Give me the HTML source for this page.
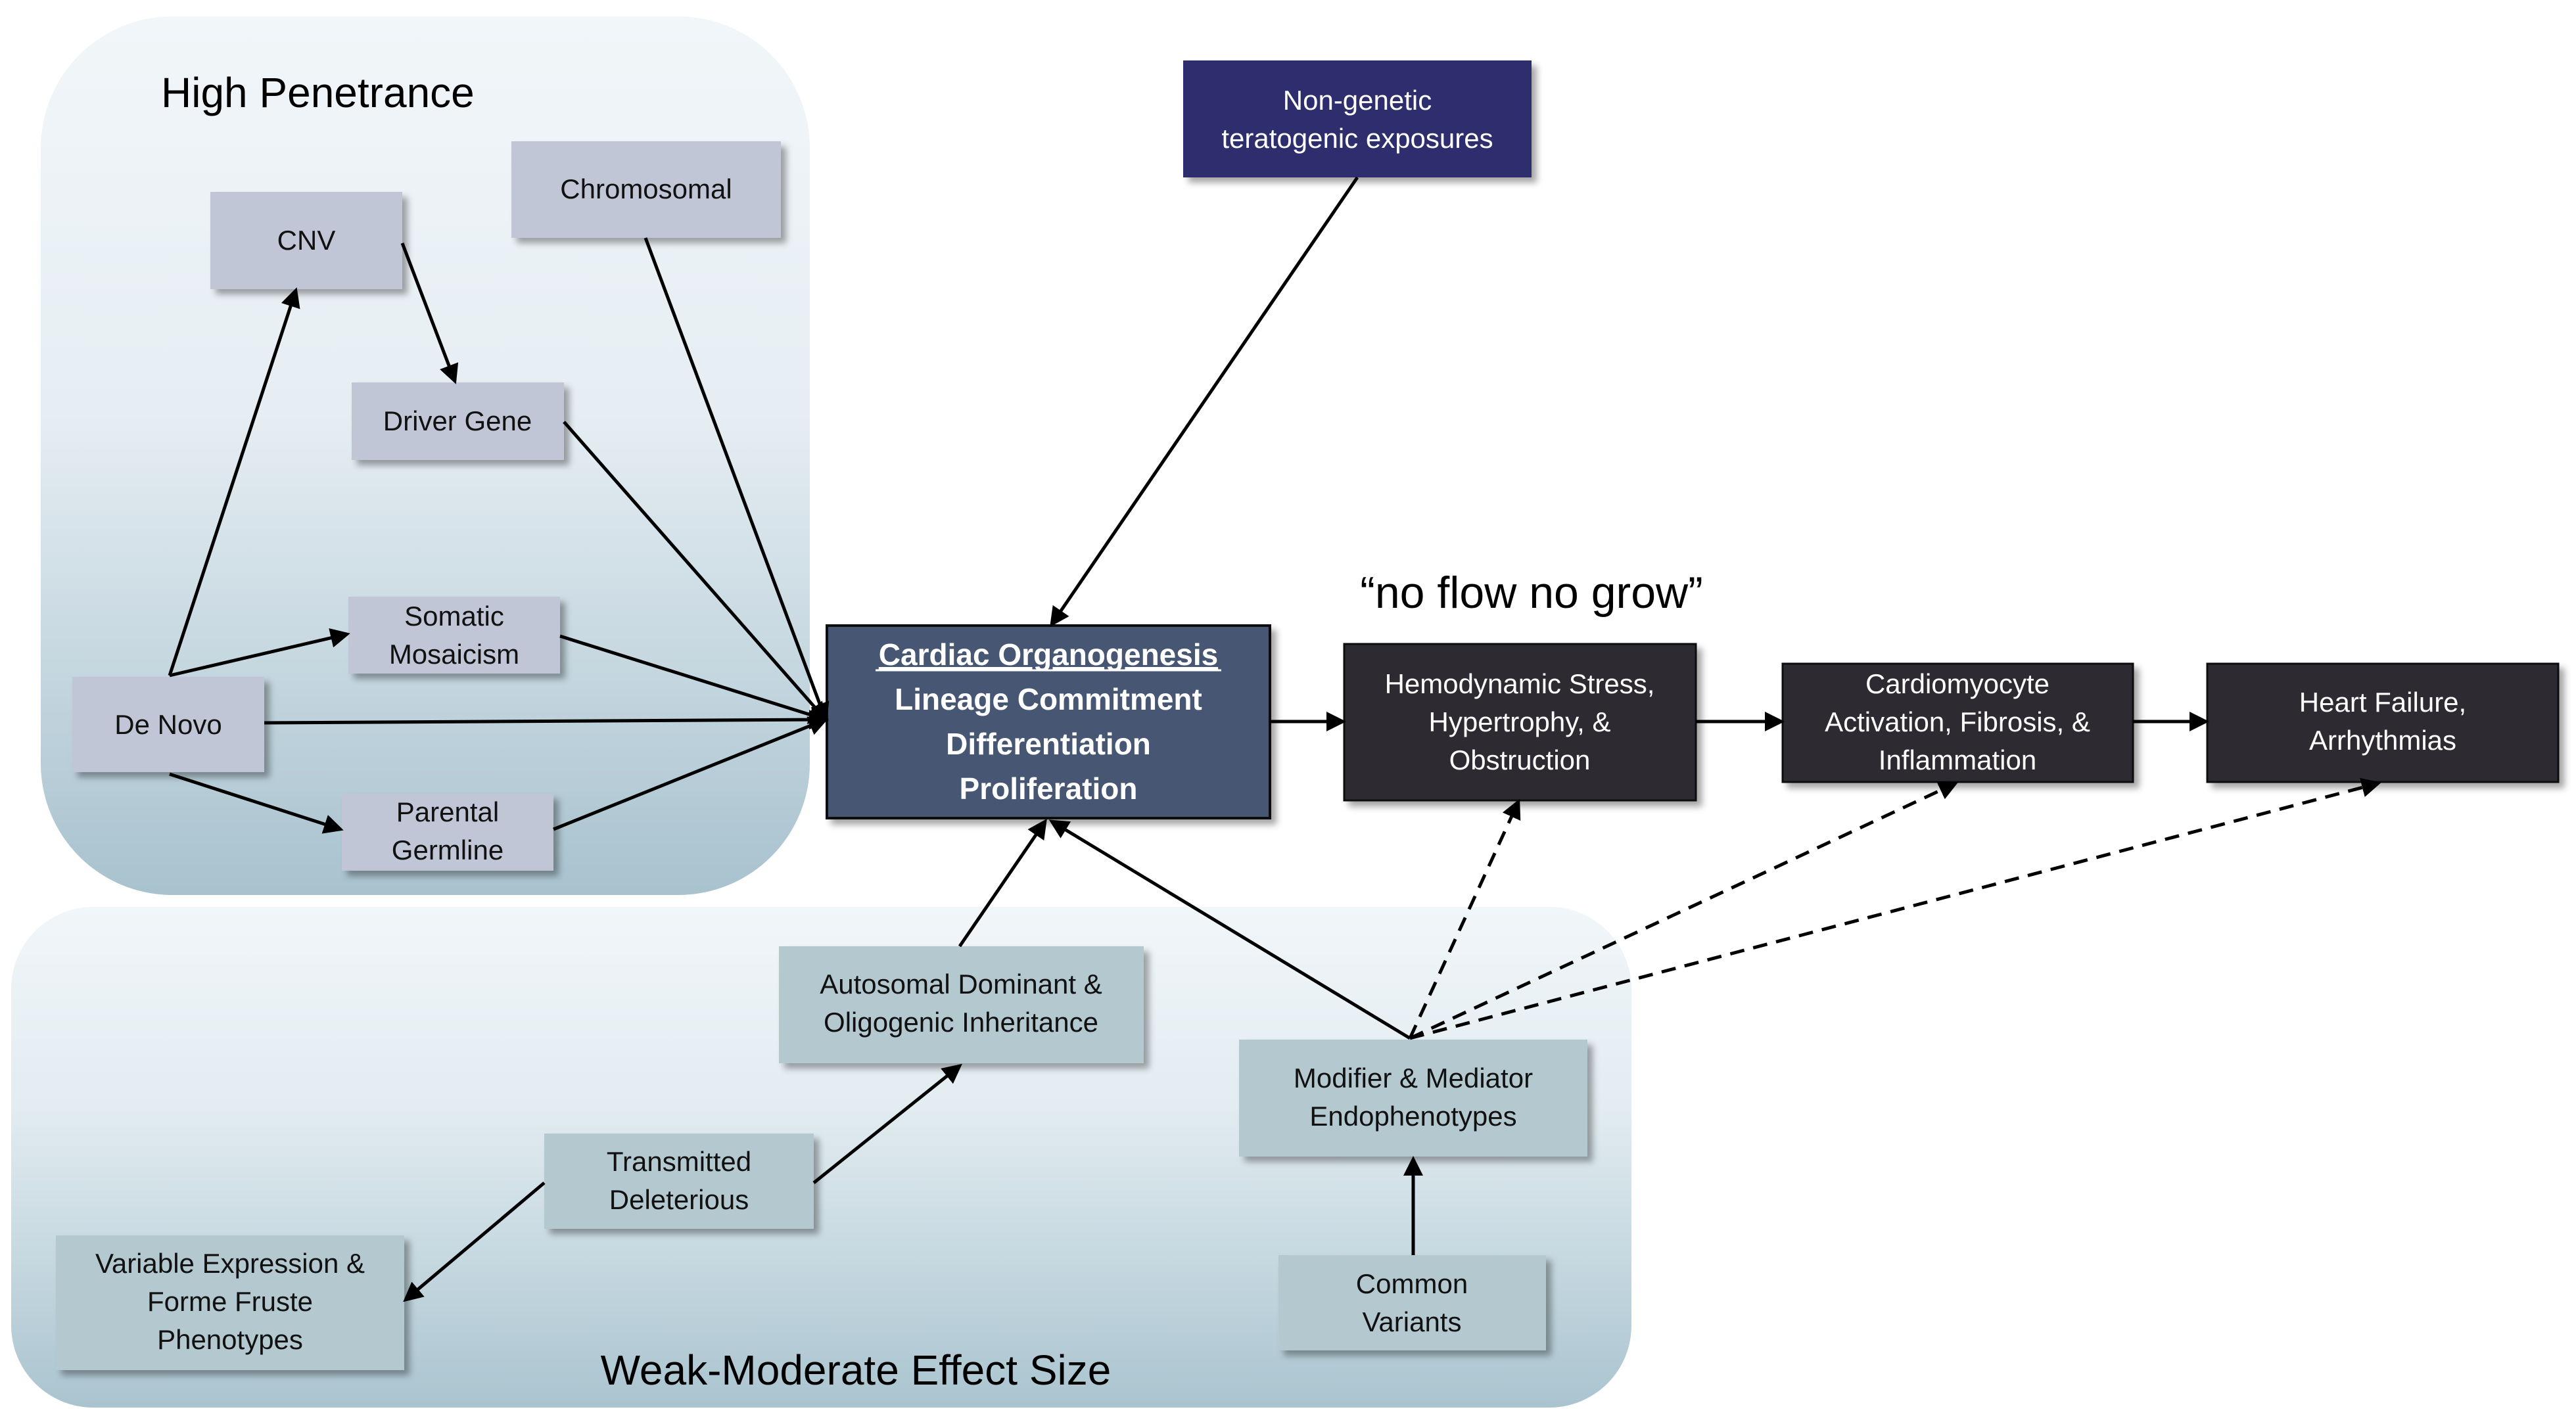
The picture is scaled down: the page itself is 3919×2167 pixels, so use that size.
<!DOCTYPE html>
<html><head><meta charset="utf-8"><style>
html,body{margin:0;padding:0;background:#fff}
svg{display:block}
text{font-family:"Liberation Sans",sans-serif}
</style></head><body>
<svg width="3919" height="2167" viewBox="0 0 3919 2167" xmlns="http://www.w3.org/2000/svg">
<defs>
<linearGradient id="g1" x1="0" y1="0" x2="0" y2="1">
<stop offset="0" stop-color="#f1f6f9"/><stop offset="0.45" stop-color="#e6eef3"/><stop offset="1" stop-color="#a8c2ce"/>
</linearGradient>
<linearGradient id="g2" x1="0" y1="0" x2="0" y2="1">
<stop offset="0" stop-color="#f1f6f9"/><stop offset="0.4" stop-color="#e2ecf1"/><stop offset="1" stop-color="#aac4cf"/>
</linearGradient>
<filter id="sh" x="-10%" y="-10%" width="130%" height="130%"><feDropShadow dx="8" dy="8" stdDeviation="5" flood-color="#000" flood-opacity="0.35"/></filter>
<marker id="ah" markerWidth="6" markerHeight="6" refX="5" refY="3" orient="auto" markerUnits="strokeWidth"><path d="M0,0 L6,3 L0,6 z" fill="#000"/></marker>
</defs>
<rect x="62" y="25" width="1170" height="1337" rx="200" fill="url(#g1)"/>
<rect x="17" y="1380" width="2465" height="762" rx="125" fill="url(#g2)"/>
<text x="245" y="163" font-size="64">High Penetrance</text>
<text x="1302" y="2107" font-size="64" text-anchor="middle">Weak-Moderate Effect Size</text>
<text x="2330" y="925" font-size="68" text-anchor="middle">“no flow no grow”</text>

<g filter="url(#sh)">
<rect x="778" y="215" width="410" height="147" fill="#c0c6d6"/>
<rect x="320" y="292" width="292" height="148" fill="#c0c6d6"/>
<rect x="535" y="582" width="323" height="118" fill="#c0c6d6"/>
<rect x="530" y="908" width="322" height="117" fill="#c0c6d6"/>
<rect x="110" y="1030" width="292" height="145" fill="#c0c6d6"/>
<rect x="520" y="1208" width="322" height="117" fill="#c0c6d6"/>
<rect x="1258" y="952" width="674" height="293" fill="#475673" stroke="#111" stroke-width="4"/>
<rect x="1800" y="92" width="530" height="178" fill="#2e2e6e"/>
<rect x="2045" y="980" width="535" height="238" fill="#2f2b30" stroke="#111" stroke-width="3"/>
<rect x="2712" y="1010" width="533" height="180" fill="#2f2b30" stroke="#111" stroke-width="3"/>
<rect x="3358" y="1010" width="534" height="180" fill="#2f2b30" stroke="#111" stroke-width="3"/>
<rect x="1185" y="1440" width="555" height="178" fill="#b4c8d0"/>
<rect x="1885" y="1582" width="530" height="178" fill="#b4c8d0"/>
<rect x="828" y="1725" width="410" height="145" fill="#b4c8d0"/>
<rect x="85" y="1880" width="530" height="205" fill="#b4c8d0"/>
<rect x="1945" y="1910" width="407" height="145" fill="#b4c8d0"/>
</g>

<g font-size="42" fill="#111" text-anchor="middle">
<text x="983" y="302">Chromosomal</text>
<text x="466" y="380">CNV</text>
<text x="696" y="655">Driver Gene</text>
<text x="691" y="952">Somatic</text>
<text x="691" y="1010">Mosaicism</text>
<text x="256" y="1117">De Novo</text>
<text x="681" y="1250">Parental</text>
<text x="681" y="1308">Germline</text>
<text x="1462" y="1512">Autosomal Dominant &amp;</text>
<text x="1462" y="1570">Oligogenic Inheritance</text>
<text x="2150" y="1655">Modifier &amp; Mediator</text>
<text x="2150" y="1713">Endophenotypes</text>
<text x="1033" y="1782">Transmitted</text>
<text x="1033" y="1840">Deleterious</text>
<text x="350" y="1937">Variable Expression &amp;</text>
<text x="350" y="1995">Forme Fruste</text>
<text x="350" y="2053">Phenotypes</text>
<text x="2148" y="1968">Common</text>
<text x="2148" y="2026">Variants</text>
</g>
<g font-size="42" fill="#fff" text-anchor="middle">
<text x="2065" y="167">Non-genetic</text>
<text x="2065" y="225">teratogenic exposures</text>
<text x="2312" y="1055">Hemodynamic Stress,</text>
<text x="2312" y="1113">Hypertrophy, &amp;</text>
<text x="2312" y="1171">Obstruction</text>
<text x="2978" y="1055">Cardiomyocyte</text>
<text x="2978" y="1113">Activation, Fibrosis, &amp;</text>
<text x="2978" y="1171">Inflammation</text>
<text x="3625" y="1083">Heart Failure,</text>
<text x="3625" y="1141">Arrhythmias</text>
</g>
<g font-size="46" fill="#fff" text-anchor="middle" font-weight="bold">
<text x="1595" y="1012" text-decoration="underline">Cardiac Organogenesis</text>
<text x="1595" y="1080">Lineage Commitment</text>
<text x="1595" y="1148">Differentiation</text>
<text x="1595" y="1216">Proliferation</text>
</g>
<line x1="1332" y1="1020" x2="1858" y2="1020" stroke="#fff" stroke-width="3"/>

<g stroke="#000" stroke-width="5" fill="none" marker-end="url(#ah)">
<line x1="612" y1="370" x2="692" y2="580"/>
<line x1="258" y1="1028" x2="450" y2="442"/>
<line x1="258" y1="1028" x2="528" y2="965"/>
<line x1="258" y1="1178" x2="518" y2="1262"/>
<line x1="402" y1="1100" x2="1256" y2="1095"/>
<line x1="982" y1="362" x2="1256" y2="1095"/>
<line x1="858" y1="642" x2="1256" y2="1095"/>
<line x1="852" y1="968" x2="1256" y2="1095"/>
<line x1="842" y1="1262" x2="1256" y2="1095"/>
<line x1="2065" y1="270" x2="1600" y2="950"/>
<line x1="1932" y1="1098" x2="2043" y2="1098"/>
<line x1="2580" y1="1098" x2="2710" y2="1098"/>
<line x1="3245" y1="1098" x2="3356" y2="1098"/>
<line x1="1460" y1="1440" x2="1590" y2="1250"/>
<line x1="2145" y1="1580" x2="1600" y2="1250"/>
<line x1="1238" y1="1800" x2="1460" y2="1622"/>
<line x1="828" y1="1800" x2="617" y2="1978"/>
<line x1="2150" y1="1910" x2="2150" y2="1764"/>
</g>
<g stroke="#000" stroke-width="5" fill="none" stroke-dasharray="22,14" marker-end="url(#ah)">
<line x1="2145" y1="1580" x2="2310" y2="1220"/>
<line x1="2145" y1="1580" x2="2975" y2="1192"/>
<line x1="2145" y1="1580" x2="3618" y2="1192"/>
</g>
</svg>
</body></html>
